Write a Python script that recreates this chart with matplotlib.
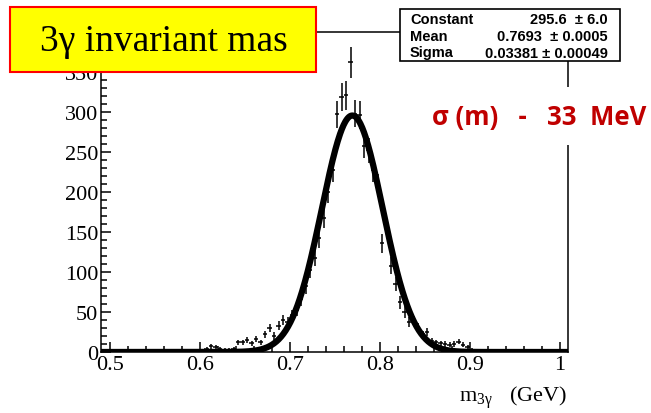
import numpy as np
import matplotlib
matplotlib.use("Agg")
import matplotlib.pyplot as plt
from matplotlib.patches import Rectangle
from matplotlib.ticker import MultipleLocator, FixedLocator, FixedFormatter

# ---- data ----
bin_lo = 0.5
bin_width = 0.005
counts = [
    # 0.5025 .. 0.5975
    0, 1, 0, 1, 0, 0, 1, 0, 1, 2, 1, 0, 1, 1, 0, 2, 1, 1, 0, 1,
    # 0.6025 .. 0.6375
    2, 4, 7, 6, 4, 3, 3, 4,
    # 0.6425 .. 0.6975
    12, 12, 15, 11, 16, 12, 22, 30, 20, 33, 40, 38,
    # 0.7025 .. 0.7475
    46, 52, 66, 82, 102, 118, 142, 168, 200, 228,
    # 0.7525 .. 0.7975
    297, 319, 321, 362, 298, 296, 258, 252, 228, 208,
    # 0.8025 .. 0.8475
    136, 155, 108, 85, 62, 50, 38, 39, 31, 22,
    # 0.8525 .. 0.8975
    25, 14, 12, 11, 10, 9, 10, 13, 9, 6,
    # 0.9025 .. 0.9975
    3, 2, 1, 1, 0, 1, 0, 1, 0, 0, 1, 0, 0, 0, 0, 0, 0, 0, 0, 0,
]
fit_constant = 295.6
fit_mean = 0.7693
fit_sigma = 0.03381
stat_names = ["Constant", "Mean", "Sigma"]
stat_values = ["295.6  \u00b1 6.0", "0.7693  \u00b1 0.0005", "0.03381 \u00b1 0.00049"]
x_ticks = [0.5, 0.6, 0.7, 0.8, 0.9, 1.0]
x_ticklabels = ["0.5", "0.6", "0.7", "0.8", "0.9", "1"]
y_ticks = [0, 50, 100, 150, 200, 250, 300, 350]
title_text = "3\u03b3 invariant mas"
note_text = "\u03c3 (m)   -   33  MeV"

# ---- figure ----
plt.rcParams["mathtext.fontset"] = "stix"
W, H = 651, 414
fig = plt.figure(figsize=(W / 100, H / 100), dpi=100)
fig.patch.set_facecolor("white")

def fx(px):
    return px / W

def fy(py):
    return 1 - py / H

ax = fig.add_axes([fx(101), fy(353), fx(568) - fx(101), fy(33) - fy(353)])

counts = np.array(counts, dtype=float)
centers = bin_lo + bin_width * (np.arange(len(counts)) + 0.5)
mask = counts > 0
ax.errorbar(centers[mask], counts[mask], yerr=np.sqrt(counts[mask]),
            xerr=bin_width / 2, fmt="none", ecolor="black",
            elinewidth=1.1, capsize=0, zorder=3)

xf = np.linspace(0.49, 1.009, 800)
yf = fit_constant * np.exp(-0.5 * ((xf - fit_mean) / fit_sigma) ** 2)
ax.plot(xf, yf, color="black", lw=4.5, solid_capstyle="butt", zorder=4)

ax.set_xlim(0.49, 1.009)
ax.set_ylim(0, 400)

serif = "Liberation Serif"
ax.xaxis.set_major_locator(FixedLocator(x_ticks))
ax.xaxis.set_major_formatter(FixedFormatter(x_ticklabels))
ax.xaxis.set_minor_locator(MultipleLocator(0.02))
ax.yaxis.set_major_locator(FixedLocator(y_ticks))
ax.yaxis.set_minor_locator(MultipleLocator(10))
ax.tick_params(axis="both", which="both", direction="in", width=1.1,
               top=False, right=False)
ax.tick_params(axis="both", which="major", length=7.5)
ax.tick_params(axis="both", which="minor", length=4)
ax.tick_params(axis="x", which="major", pad=2)
ax.tick_params(axis="y", which="major", pad=2)
for lab in ax.get_xticklabels() + ax.get_yticklabels():
    lab.set_fontfamily(serif)
    lab.set_fontsize(16)
for s in ax.spines.values():
    s.set_linewidth(1.1)

fig.text(fx(567), fy(398), r"m$_{\mathregular{3\gamma}}$   (GeV)",
         ha="right", va="center", fontsize=16, fontfamily=serif)

# yellow title box
fig.add_artist(Rectangle((fx(10), fy(73)), fx(316) - fx(10), fy(8) - fy(73),
                         transform=fig.transFigure, facecolor="#ffff00",
                         edgecolor="#ff0000", lw=1.5, zorder=5))
fig.text(fx(40), fy(42), title_text, ha="left", va="center",
         fontsize=27, fontfamily=serif, zorder=6)

# stats box
fig.add_artist(Rectangle((fx(400), fy(62)), fx(620) - fx(400), fy(10) - fy(62),
                         transform=fig.transFigure, facecolor="white",
                         edgecolor="black", lw=1.2, zorder=5))
for i, (n, v) in enumerate(zip(stat_names, stat_values)):
    yy = fy(20.5 + 16.5 * i)
    fig.text(fx(410), yy, n, ha="left", va="center", fontsize=10.5,
             fontweight="bold", fontfamily="Liberation Sans", zorder=6)
    fig.text(fx(608), yy, v, ha="right", va="center", fontsize=10.5,
             fontweight="bold", fontfamily="Liberation Sans", zorder=6)

# red note with white background
fig.add_artist(Rectangle((fx(425), fy(146)), fx(651) - fx(425), fy(88) - fy(146),
                         transform=fig.transFigure, facecolor="white",
                         edgecolor="none", zorder=5))
fig.text(fx(432), fy(118), note_text, ha="left", va="center", fontsize=18.5,
         fontweight="bold", color="#c00000",
         fontfamily=["Open Sans", "DejaVu Sans"], zorder=6)

fig.savefig("out.png", dpi=100, facecolor="white")
